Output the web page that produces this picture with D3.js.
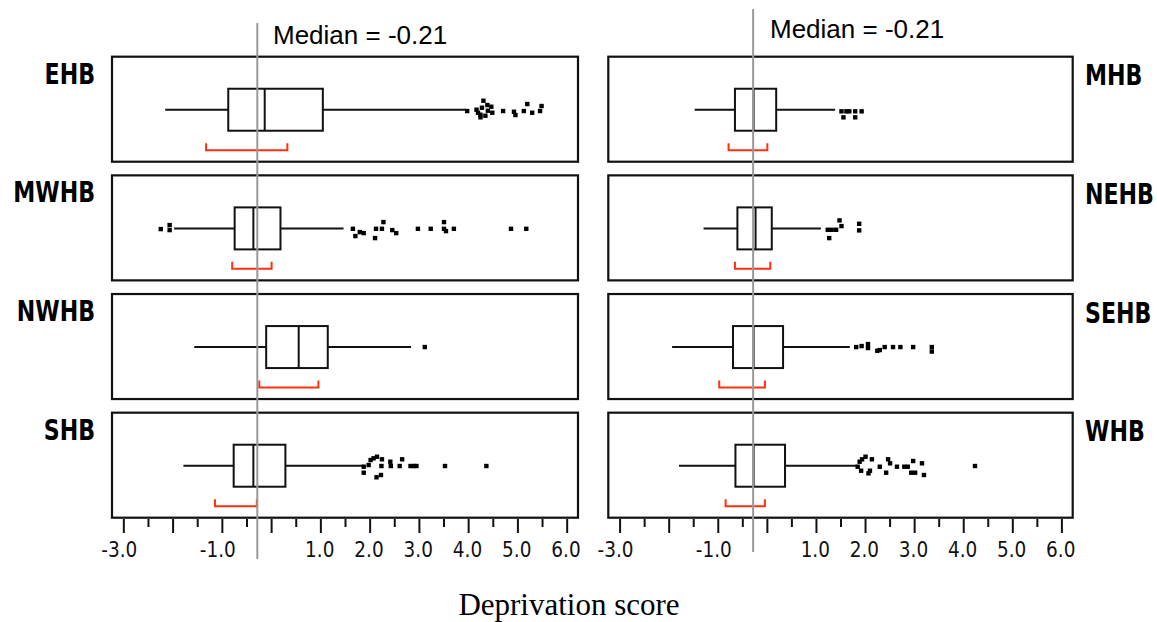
<!DOCTYPE html>
<html>
<head>
<meta charset="utf-8">
<script src="https://cdn.jsdelivr.net/npm/d3@7"></script>
<style>
  body { margin: 0; background: #fff; }
  svg { display: block; }
</style>
</head>
<body>
<div id="chart"></div>
<script>
// groups, left column then right column
var leftGroups = ["EHB", "MWHB", "NWHB", "SHB"]
var rightGroups = ["MHB", "NEHB", "SEHB", "WHB"]

// box stats, order: EHB, MWHB, NWHB, SHB, MHB, NEHB, SEHB, WHB
var whiskerLow  = [-2.15, -1.97, -1.56, -1.78, -1.47, -1.29, -1.93, -1.79]
var q1          = [-0.87, -0.74, -0.10, -0.76, -0.65, -0.60, -0.69, -0.64]
var median      = [-0.13, -0.36,  0.56, -0.36, -0.27, -0.23, -0.27, -0.27]
var q3          = [ 1.05,  0.19,  1.15,  0.29,  0.19,  0.10,  0.33,  0.37]
var whiskerHigh = [ 3.95,  1.47,  2.84,  1.88,  1.39,  1.10,  1.69,  1.84]
// red brackets
var ciLow  = [-1.32, -0.79, -0.24, -1.14, -0.78, -0.65, -0.97, -0.84]
var ciHigh = [ 0.33,  0.01,  0.96, -0.29,  0.01,  0.07, -0.04, -0.04]

// outliers: [value, jitter]
var outEHB = [[3.98, 0.13], [4.17, 0], [4.20, 0.3], [4.25, 0.5], [4.25, 0.76], [4.28, -0.2], [4.31, -0.9],
  [4.35, 0.6], [4.39, -0.47], [4.40, 0.1], [4.47, -0.3], [4.49, 0.3], [4.71, 0.13], [4.93, 0.2],
  [4.96, 0.53], [5.13, 0.13], [5.20, -0.57], [5.30, 0.3], [5.46, 0.13], [5.49, -0.37]]
var outMWHB = [[-2.24, 0.07], [-2.06, -0.33], [-2.06, 0.17], [1.66, 0.04], [1.71, 0.77], [1.80, 0.37],
  [1.88, 0.47], [2.11, 0.97], [2.13, 0.04], [2.25, 0.04], [2.28, -0.63], [2.46, 0.17], [2.54, 0.47],
  [2.98, 0.04], [3.24, 0.04], [3.51, -0.63], [3.51, 0.04], [3.55, 0.27], [3.71, 0.04], [4.87, 0.04], [5.18, 0.04]]
var outNWHB = [[3.12, 0]]
var outSHB = [[1.88, 0.1], [1.88, 0.7], [1.98, -0.07], [2.02, -0.57], [2.08, -0.74], [2.15, -0.9],
  [2.14, 1.16], [2.23, 0.93], [2.24, 0.03], [2.25, -0.64], [2.42, -0.4], [2.43, 0.03], [2.61, 0.03],
  [2.66, -0.64], [2.83, 0.03], [2.90, 0.03], [2.95, 0.03], [3.53, 0.03], [4.37, 0.03]]
var outMHB = [[1.52, 0.16], [1.62, 0.16], [1.68, 0.16], [1.56, 0.76], [1.80, 0.16], [1.93, 0.16], [1.80, 0.76]]
var outNEHB = [[1.24, 0.14], [1.32, 0.14], [1.41, 0.14], [1.48, -0.8], [1.52, -0.23], [1.27, 0.97],
  [1.88, -0.46], [1.88, 0.2]]
var outSEHB = [[1.82, 0], [1.93, -0.1], [2.06, -0.3], [2.06, 0.1], [2.25, 0.37], [2.30, 0.3], [2.40, 0],
  [2.57, 0], [2.72, 0], [2.98, 0], [3.36, 0], [3.36, 0.45]]
var outWHB = [[1.85, 0.1], [1.89, -0.4], [1.94, -0.64], [2.01, -0.9], [1.92, 0.5], [2.07, 0.76], [2.10, 0.5],
  [2.14, -0.64], [2.30, 0.1], [2.43, 0.7], [2.47, -0.64], [2.51, -0.24], [2.65, 0.1], [2.80, 0.1],
  [2.87, 0.1], [2.98, -0.47], [2.94, 0.7], [3.02, 0.7], [3.16, -0.24], [3.20, 0.93], [4.24, 0.03]]
var outliers = [outEHB, outMWHB, outNWHB, outSHB, outMHB, outNEHB, outSEHB, outWHB]

// axis
var majorTicks = [-3, -2, -1, 0, 1, 2, 3, 4, 5, 6]
var minorTicks = [-2.5, -1.5, -0.5, 0.5, 1.5, 2.5, 3.5, 4.5, 5.5]
var tickLabels = ["-3.0", "", "-1.0", "", "1.0", "2.0", "3.0", "4.0", "5.0", "6.0"]

var medianLine = -0.28
var medianText = "Median = -0.21"
var xTitle = "Deprivation score"

var width = 1157
var height = 622

var svg = d3.select("#chart").append("svg")
    .attr("width", width)
    .attr("height", height)

var xLeft = d3.scaleLinear().domain([-3.23, 6.23]).range([112, 578])
var xRight = d3.scaleLinear().domain([-3.23, 6.23]).range([608.3, 1072.7])
var y = d3.scaleBand().domain([0, 1, 2, 3]).range([56.7, 517.7]).paddingInner(0.115)
var jit = d3.scaleLinear().domain([-1, 1]).range([-10, 10])

var groups = leftGroups.concat(rightGroups)

groups.forEach(function (name, i) {
    var side = i < 4 ? 0 : 1
    var row = i % 4
    var x = side == 0 ? xLeft : xRight
    var top = y(row)
    var bh = y.bandwidth()
    var cy = top + bh * 0.505
    var g = svg.append("g")

    // frame
    g.append("rect")
        .attr("x", x.range()[0]).attr("y", top)
        .attr("width", x.range()[1] - x.range()[0]).attr("height", bh)
        .attr("fill", "none").attr("stroke", "#111").attr("stroke-width", 2.2)

    // whiskers
    g.append("line")
        .attr("x1", x(whiskerLow[i])).attr("x2", x(q1[i]))
        .attr("y1", cy).attr("y2", cy)
        .attr("stroke", "#111").attr("stroke-width", 2)
    g.append("line")
        .attr("x1", x(q3[i])).attr("x2", x(whiskerHigh[i]))
        .attr("y1", cy).attr("y2", cy)
        .attr("stroke", "#111").attr("stroke-width", 2)

    // box
    g.append("rect")
        .attr("x", x(q1[i])).attr("y", cy - 21)
        .attr("width", x(q3[i]) - x(q1[i])).attr("height", 42)
        .attr("fill", "none").attr("stroke", "#111").attr("stroke-width", 2)
    g.append("line")
        .attr("x1", x(median[i])).attr("x2", x(median[i]))
        .attr("y1", cy - 21).attr("y2", cy + 21)
        .attr("stroke", "#111").attr("stroke-width", 2)

    // outliers
    g.selectAll(".pt")
        .data(outliers[i])
        .enter()
        .append("rect")
        .attr("x", function (d) { return x(d[0]) - 2.2 })
        .attr("y", function (d) { return cy + jit(d[1]) - 2.2 })
        .attr("width", 4.4).attr("height", 4.4)
        .attr("fill", "#000")

    // red bracket
    var ry = top + bh * 0.89
    g.append("path")
        .attr("d", "M" + x(ciLow[i]) + "," + (ry - 7) + "V" + ry + "H" + x(ciHigh[i]) + "V" + (ry - 7))
        .attr("fill", "none").attr("stroke", "#ff3010").attr("stroke-width", 2)

    // group label
    var lbl = g.append("text")
        .text(name)
        .style("font-family", "'DejaVu Sans', sans-serif")
        .style("font-weight", "bold")
        .style("font-size", "28px")
        .attr("fill", "#000")
    if (side == 0) {
        lbl.attr("text-anchor", "end")
            .attr("transform", "translate(95," + (top + 27) + ") scale(0.79,1)")
    } else {
        lbl.attr("text-anchor", "start")
            .attr("transform", "translate(1085," + (top + 28.5) + ") scale(0.79,1)")
    }
})

// axes
;[xLeft, xRight].forEach(function (x) {
    var major = svg.append("g")
        .attr("transform", "translate(0,519)")
        .call(d3.axisBottom(x).tickValues(majorTicks).tickSize(14)
            .tickFormat(function (d, i) { return tickLabels[i] }))
    major.select(".domain").remove()
    major.selectAll("line").attr("stroke", "#111").attr("stroke-width", 2)
    major.selectAll("text")
        .attr("y", 37.7).attr("dy", 0)
        .attr("x", 13.5)
        .attr("text-anchor", "end")
        .attr("fill", "#111")
        .style("font-family", "'DejaVu Sans Condensed', 'DejaVu Sans', sans-serif")
        .style("font-size", "20.5px")

    var minor = svg.append("g")
        .attr("transform", "translate(0,519)")
        .call(d3.axisBottom(x).tickValues(minorTicks).tickSize(8).tickFormat(""))
    minor.select(".domain").remove()
    minor.selectAll("line").attr("stroke", "#111").attr("stroke-width", 2)
})

// median lines
svg.append("line")
    .attr("x1", xLeft(medianLine)).attr("x2", xLeft(medianLine))
    .attr("y1", 23).attr("y2", 559)
    .attr("stroke", "#999").attr("stroke-width", 2)
svg.append("line")
    .attr("x1", xRight(medianLine)).attr("x2", xRight(medianLine))
    .attr("y1", 9).attr("y2", 552)
    .attr("stroke", "#999").attr("stroke-width", 2)

svg.append("text")
    .attr("x", 273).attr("y", 43.5)
    .text(medianText)
    .style("font-family", "'Liberation Sans', Arial, sans-serif")
    .style("font-size", "26px")
svg.append("text")
    .attr("x", 770).attr("y", 37.5)
    .text(medianText)
    .style("font-family", "'Liberation Sans', Arial, sans-serif")
    .style("font-size", "26px")

// x title
svg.append("text")
    .attr("x", 569).attr("y", 614.5)
    .attr("text-anchor", "middle")
    .text(xTitle)
    .style("font-family", "'Liberation Serif', 'Times New Roman', serif")
    .style("font-size", "31px")
</script>
</body>
</html>
